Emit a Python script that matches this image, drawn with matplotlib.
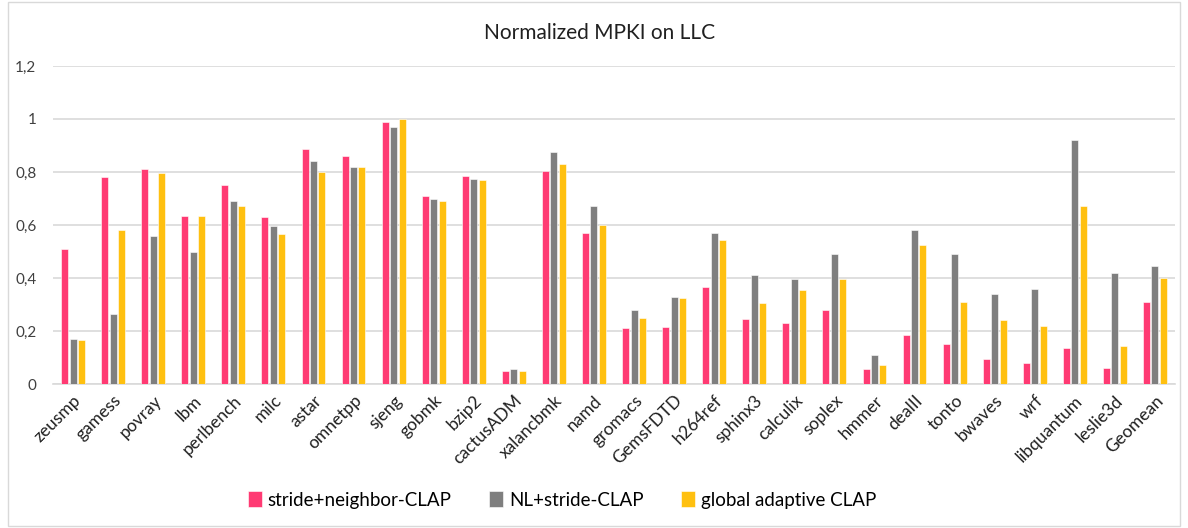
import matplotlib
matplotlib.use("Agg")
import matplotlib.pyplot as plt
import numpy as np
from matplotlib.patches import Rectangle

categories = ["zeusmp", "gamess", "povray", "lbm", "perlbench", "milc", "astar",
              "omnetpp", "sjeng", "gobmk", "bzip2", "cactusADM", "xalancbmk", "namd",
              "gromacs", "GemsFDTD", "h264ref", "sphinx3", "calculix", "soplex",
              "hmmer", "dealII", "tonto", "bwaves", "wrf", "libquantum", "leslie3d",
              "Geomean"]
stride_neighbor = [0.51, 0.78, 0.81, 0.635, 0.75, 0.63, 0.885, 0.86, 0.99, 0.71, 0.785,
                   0.05, 0.805, 0.57, 0.21, 0.215, 0.365, 0.245, 0.23, 0.28, 0.055,
                   0.185, 0.15, 0.095, 0.08, 0.135, 0.06, 0.31]
nl_stride = [0.17, 0.265, 0.56, 0.50, 0.69, 0.595, 0.84, 0.82, 0.97, 0.70, 0.775,
             0.055, 0.875, 0.67, 0.28, 0.33, 0.57, 0.41, 0.395, 0.49, 0.11,
             0.58, 0.49, 0.34, 0.36, 0.92, 0.42, 0.445]
global_adaptive = [0.165, 0.58, 0.795, 0.635, 0.67, 0.565, 0.80, 0.82, 1.0, 0.69, 0.77,
                   0.05, 0.83, 0.60, 0.25, 0.325, 0.545, 0.305, 0.355, 0.395, 0.07,
                   0.525, 0.31, 0.24, 0.22, 0.67, 0.145, 0.40]
series_names = ["stride+neighbor-CLAP", "NL+stride-CLAP", "global adaptive CLAP"]
yticks = [0, 0.2, 0.4, 0.6, 0.8, 1.0, 1.2]
ytick_labels = ["0", "0,2", "0,4", "0,6", "0,8", "1", "1,2"]

colors = ["#FF3A73", "#7F7F7F", "#FFC010"]
plt.rcParams['font.family'] = ['Lato', 'DejaVu Sans']

fig = plt.figure(figsize=(11.88, 5.28), dpi=100)
ax = fig.add_axes([53/1188, 1-384/528, (1175-53)/1188, (384-66)/528])

x = np.arange(len(categories))
w = 0.175
step = 0.21
for i, (vals, name, c) in enumerate(zip([stride_neighbor, nl_stride, global_adaptive], series_names, colors)):
    ax.bar(x + (i-1)*step, vals, width=w, color=c, label=name, edgecolor='white', linewidth=0.4, zorder=3)

ax.set_xlim(-0.5, len(categories)-0.5)
ax.set_ylim(0, 1.2)
ax.set_yticks(yticks)
ax.set_yticklabels(ytick_labels, fontsize=11, color='#404040')
ax.set_xticks(x)
ax.set_xticklabels(categories, rotation=45, ha='right', rotation_mode='anchor', fontsize=12.5, color='#202020')
ax.tick_params(axis='both', length=0)
ax.tick_params(axis='y', pad=12)
ax.tick_params(axis='x', pad=6)
ax.grid(axis='y', color='#D9D9D9', linewidth=1.2, zorder=0)
for s in ['top', 'right', 'left']:
    ax.spines[s].set_visible(False)
ax.spines['bottom'].set_color('#D9D9D9')
ax.spines['bottom'].set_linewidth(1.2)

fig.text(600/1188, 1-33/528, "Normalized MPKI on LLC", ha='center', va='center', fontsize=15, color='#202020')

fig.legend(loc='center', bbox_to_anchor=(562/1188, 1-500/528), ncol=3, frameon=False,
           fontsize=13.5, handlelength=0.75, handleheight=0.9, handletextpad=0.3, columnspacing=2.0)

fig.patches.append(Rectangle((8/1188, 2/528), 1-16/1188, 1-4/528, transform=fig.transFigure,
                             fill=False, edgecolor='#D9D9D9', linewidth=1))

fig.savefig("out.png", dpi=100, facecolor='white')
